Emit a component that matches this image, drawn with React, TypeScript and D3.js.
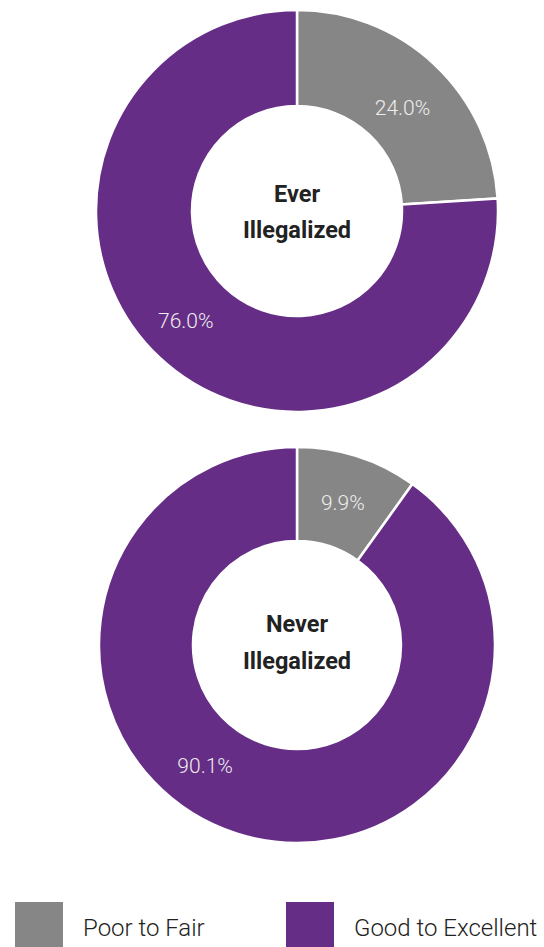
import React from "react";
import * as d3 from "d3";

// ---- data ----
const categories = ["Poor to Fair", "Good to Excellent"];
const groupTitles = [["Ever", "Illegalized"], ["Never", "Illegalized"]];
const everValues = [24.0, 76.0];
const neverValues = [9.9, 90.1];

// ---- layout / style ----
const W = 544;
const H = 947;
const colors = ["#868686", "#652d86"];
const donuts = [
  { values: everValues, title: groupTitles[0], cx: 297, cy: 211, outer: 201, inner: 105, labelR: [148, 156], labelAngle: [45.5, 225.5], titleY: [202, 238] },
  { values: neverValues, title: groupTitles[1], cx: 297, cy: 645, outer: 198, inner: 104, labelR: [150, 151], labelAngle: [17.8, 217.5], titleY: [632, 669] },
];

function Donut({ d }: { d: (typeof donuts)[number] }) {
  const pie = d3.pie<number>().sort(null).value((v) => v);
  const arcs = pie(d.values);
  const arc = d3.arc<d3.PieArcDatum<number>>().innerRadius(d.inner).outerRadius(d.outer);
  return (
    <g transform={`translate(${d.cx},${d.cy})`}>
      {arcs.map((a, i) => (
        <path key={i} d={arc(a) || ""} fill={colors[i]} stroke="#fff" strokeWidth={2.5} />
      ))}
      {arcs.map((a, i) => {
        const ang = (d.labelAngle[i] * Math.PI) / 180;
        const x = d.labelR[i] * Math.sin(ang);
        const y = -d.labelR[i] * Math.cos(ang);
        return (
          <text key={"l" + i} x={x} y={y} dy="0.38em" textAnchor="middle" fill="#eeeeee" fontFamily="Roboto" fontWeight={300} fontSize={21}>
            {d.values[i].toFixed(1) + "%"}
          </text>
        );
      })}
      {d.title.map((t, i) => (
        <text key={"t" + i} x={0} y={d.titleY[i] - d.cy} textAnchor="middle" fill="#222" fontFamily="Roboto" fontWeight={700} fontSize={23.5}>
          {t}
        </text>
      ))}
    </g>
  );
}

export default function App() {
  return (
    <svg width={W} height={H} style={{ position: "absolute", left: 0, top: 0, background: "#fff" }}>
      {donuts.map((d, i) => (
        <Donut key={i} d={d} />
      ))}
      {categories.map((c, i) => (
        <g key={c} transform={`translate(${[15, 286][i]},902)`}>
          <rect width={48} height={48} fill={colors[i]} />
          <text x={68} y={34} fill="#222" fontFamily="Roboto" fontWeight={300} fontSize={24}>
            {c}
          </text>
        </g>
      ))}
    </svg>
  );
}
